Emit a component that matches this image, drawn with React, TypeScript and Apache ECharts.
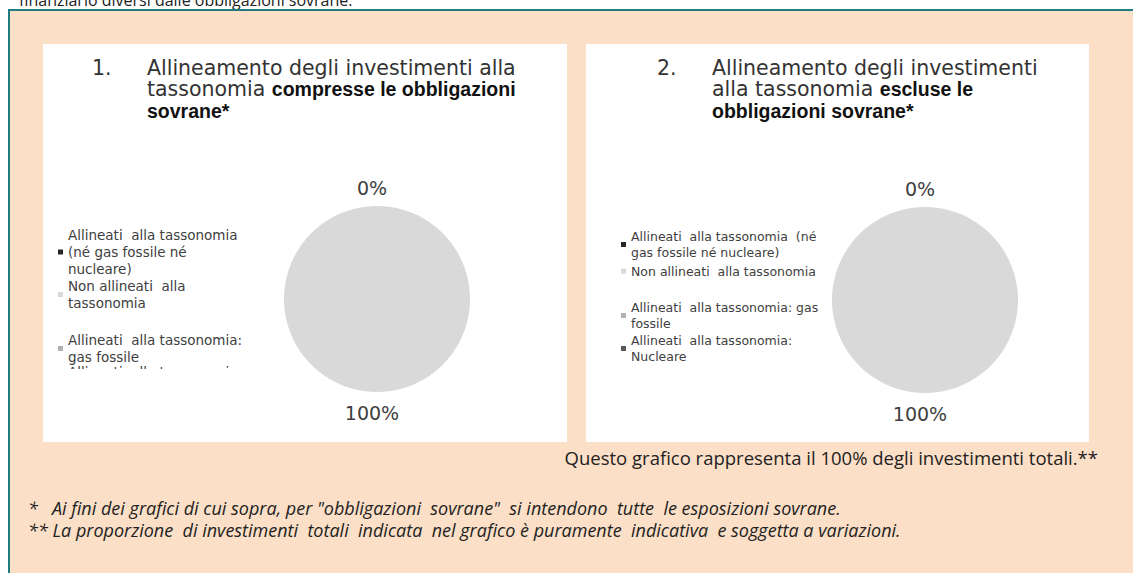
import React, { useEffect, useRef } from "react";
import * as echarts from "echarts";

const categories = [
  "Allineati alla tassonomia (né gas fossile né nucleare)",
  "Non allineati alla tassonomia",
  "Allineati alla tassonomia: gas fossile",
  "Allineati alla tassonomia: Nucleare",
];
const valuesWithSovereign = [0, 100, 0, 0];
const valuesWithoutSovereign = [0, 100, 0, 0];
const sliceColors = ["#262626", "#d9d9d9", "#b0b0b0", "#595959"];

const legendTextLeft = [
  "Allineati  alla tassonomia\n(né gas fossile né\nnucleare)",
  "Non allineati  alla\ntassonomia",
  "Allineati  alla tassonomia:\ngas fossile",
  "Allineati  alla tassonomia:\nNucleare",
];
const legendTextRight = [
  "Allineati  alla tassonomia  (né\ngas fossile né nucleare)",
  "Non allineati  alla tassonomia",
  "Allineati  alla tassonomia: gas\nfossile",
  "Allineati  alla tassonomia:\nNucleare",
];

const titleLeft = "Allineamento degli investimenti alla\ntassonomia {b|compresse le obbligazioni}\n{b|sovrane*}";
const titleRight = "Allineamento degli investimenti\nalla tassonomia {b|escluse le}\n{b|obbligazioni sovrane*}";
const topCutText = "finanziario diversi dalle obbligazioni sovrane.";
const noteText = "Questo grafico rappresenta il 100% degli investimenti totali.**";
const footnote1 = "*   Ai fini dei grafici di cui sopra, per \"obbligazioni  sovrane\"  si intendono  tutte  le esposizioni sovrane.";
const footnote2 = "** La proporzione  di investimenti  totali  indicata  nel grafico è puramente  indicativa  e soggetta a variazioni.";

const GOTHIC = "DejaVu Sans";
const LEG_TOPS_L = [226.5, 277.5, 331.5, 363.5];
const LEG_TOPS_R = [228, 263, 299, 332];

function pieSeries(values: number[], center: [number, number]) {
  return {
    type: "pie",
    center,
    radius: 93,
    startAngle: 90,
    clockwise: true,
    avoidLabelOverlap: false,
    silent: true,
    itemStyle: { borderWidth: 0 },
    label: {
      show: true,
      position: "outside",
      formatter: (p: any) => Math.round(p.percent) + "%",
      fontFamily: GOTHIC,
      fontSize: 19,
      color: "#404040",
    },
    labelLine: { show: false, length: 18, length2: 0 },
    labelLayout: { align: "center" },
    data: categories.map((name, i) => ({
      name,
      value: values[i],
      itemStyle: { color: sliceColors[i] },
      label: i >= 2 ? { show: false } : undefined,
      labelLine: i === 1 ? { show: false, length: 21, length2: 0 } : undefined,
    })),
  };
}

function legendItems(texts: string[], tops: number[], left: number, fontSize: number, lineHeight: number) {
  return categories.map((name, i) => ({
    data: [name],
    left,
    top: tops[i],
    orient: "vertical",
    padding: 0,
    icon: "rect",
    itemWidth: 5,
    itemHeight: 5,
    selectedMode: false,
    formatter: () => texts[i],
    textStyle: { fontFamily: GOTHIC, fontSize, lineHeight, color: "#404040" },
  }));
}

function titleItems(num: string, text: string, numLeft: number, textLeft: number) {
  const base = { fontFamily: GOTHIC, fontSize: 20.5, lineHeight: 21.5, color: "#333333", fontWeight: "normal" };
  return [
    { text: num, left: numLeft, top: 57, padding: 0, textStyle: base },
    {
      text,
      left: textLeft,
      top: 57,
      padding: 0,
      textStyle: {
        ...base,
        rich: {
          b: { ...base, fontFamily: "Liberation Sans", fontSize: 19.5, fontWeight: "bold", color: "#111111" },
        },
      },
    },
  ];
}

export default function App() {
  const ref = useRef<HTMLDivElement>(null);
  useEffect(() => {
    if (!ref.current) return;
    const chart = echarts.init(ref.current, undefined, { renderer: "svg" });
    chart.setOption({
      animation: false,
      title: [...titleItems("1.", titleLeft, 92, 147), ...titleItems("2.", titleRight, 657, 712)],
      legend: [
        ...legendItems(legendTextLeft, LEG_TOPS_L, 58, 13.5, 17),
        ...legendItems(legendTextRight, LEG_TOPS_R, 621, 12.5, 16.5),
      ],
      graphic: [
        {
          type: "text",
          x: 19,
          y: 8,
          z: -10,
          style: { text: topCutText, fontFamily: "Open Sans", fontSize: 16, fill: "#222", verticalAlign: "bottom" },
        },
        {
          type: "rect",
          z: -5,
          shape: { x: 9, y: 10, width: 1140, height: 580 },
          style: { fill: "#fcdfc7", stroke: "#1e7b80", lineWidth: 2 },
        },
        { type: "rect", z: -4, shape: { x: 43, y: 44, width: 524, height: 398 }, style: { fill: "#ffffff" } },
        { type: "rect", z: -4, shape: { x: 586, y: 44, width: 503, height: 398 }, style: { fill: "#ffffff" } },
        { type: "rect", z: 100, shape: { x: 55, y: 369, width: 215, height: 40 }, style: { fill: "#ffffff" } },
        {
          type: "text",
          x: 1098,
          y: 457,
          style: { text: noteText, fontFamily: "Open Sans", fontSize: 18.5, fill: "#222", align: "right", verticalAlign: "middle" },
        },
        {
          type: "text",
          x: 28,
          y: 508,
          style: { text: footnote1, fontFamily: "Open Sans", fontStyle: "italic", fontSize: 18, lineHeight: 20, fill: "#222", verticalAlign: "middle" },
        },
        {
          type: "text",
          x: 28,
          y: 530,
          style: { text: footnote2, fontFamily: "Open Sans", fontStyle: "italic", fontSize: 18, lineHeight: 20, fill: "#222", verticalAlign: "middle" },
        },
      ],
      series: [
        pieSeries(valuesWithSovereign, [377, 299]),
        pieSeries(valuesWithoutSovereign, [925, 300]),
      ],
    });
    return () => chart.dispose();
  }, []);
  return (
    <div
      ref={ref}
      style={{ position: "absolute", left: 0, top: 0, width: 1133, height: 573, background: "#ffffff" }}
    />
  );
}
